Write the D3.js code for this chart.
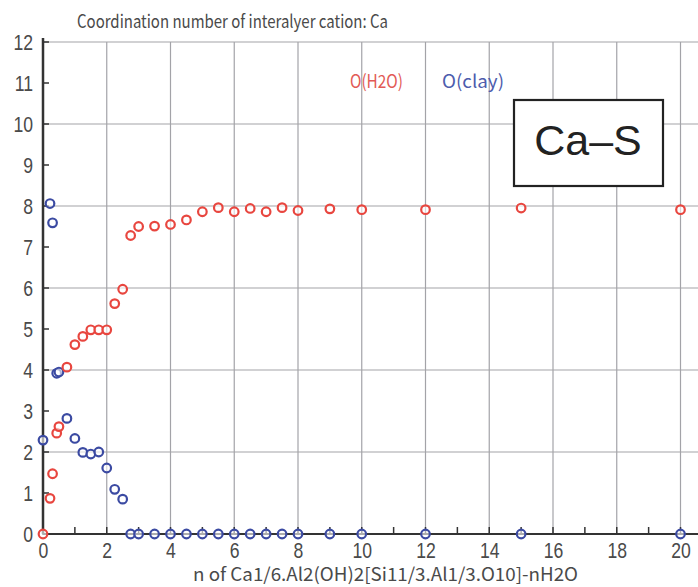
<!DOCTYPE html>
<html>
<head>
<meta charset="utf-8">
<script src="https://cdn.jsdelivr.net/npm/d3@7/dist/d3.min.js"></script>
<style>
  html, body { margin: 0; padding: 0; background: #fff; }
  svg { display: block; }
</style>
</head>
<body>
<svg id="chart" width="698" height="587"></svg>
<script>
// Water content n (x) shared by both series
const nValues = [0, 0.22, 0.3, 0.43, 0.5, 0.75, 1, 1.25, 1.5, 1.75, 2, 2.25, 2.5, 2.75, 3,
                 3.5, 4, 4.5, 5, 5.5, 6, 6.5, 7, 7.5, 8, 9, 10, 12, 15, 20];
// Coordination number from water oxygens
const cnWater = [0, 0.87, 1.47, 2.46, 2.62, 4.07, 4.62, 4.82, 4.98, 4.98, 4.98, 5.62, 5.97, 7.28, 7.5,
                 7.51, 7.55, 7.66, 7.86, 7.96, 7.86, 7.94, 7.86, 7.96, 7.89, 7.93, 7.91, 7.91, 7.95, 7.91];
// Coordination number from clay oxygens
const cnClay = [2.29, 8.06, 7.59, 3.92, 3.95, 2.82, 2.33, 1.99, 1.95, 2.0, 1.61, 1.09, 0.85, 0, 0,
                0, 0, 0, 0, 0, 0, 0, 0, 0, 0, 0, 0, 0, 0, 0];

const xMajorTicks = [0, 2, 4, 6, 8, 10, 12, 14, 16, 18, 20];
const xMinorTicks = [1, 3, 5, 7, 9, 11, 13, 15, 17, 19];
const yTicks = [0, 1, 2, 3, 4, 5, 6, 7, 8, 9, 10, 11, 12];
const yGrid = [2, 4, 6, 8, 10, 12];

const titleText = "Coordination number of interalyer cation: Ca";
const xTitleText = "n of Ca1/6.Al2(OH)2[Si11/3.Al1/3.O10]-nH2O";
const legendWater = "O(H2O)";
const legendClay = "O(clay)";
const panelLabel = "Ca\u2013S";

const RED = "#e8463f";
const BLUE = "#3b4aa2";
const GRID = "#a3a3a8";
const AXIS = "#333";
const TEXT = "#4a4a4a";
const tickFont = "'Liberation Sans', Arial, sans-serif";
const labelFont = "'Noto Sans CJK JP', 'DejaVu Sans', sans-serif";
const narrow = 0.8;   // horizontal squeeze for the tick numerals

const svg = d3.select("#chart");
const plotLeft = 43, plotTop = 42, plotBottom = 534, plotRight = 698;

const x = d3.scaleLinear().domain([0, 20]).range([plotLeft, 680.5]);
const y = d3.scaleLinear().domain([0, 12]).range([plotBottom, plotTop]);

// grid
const grid = svg.append("g");
grid.selectAll("line.v").data(xMajorTicks.filter(d => d > 0)).join("line")
  .attr("class", "v")
  .attr("x1", d => x(d)).attr("x2", d => x(d))
  .attr("y1", plotTop).attr("y2", plotBottom)
  .attr("stroke", GRID).attr("stroke-width", 1.2);
grid.selectAll("line.h").data(yGrid).join("line")
  .attr("class", "h")
  .attr("x1", plotLeft).attr("x2", plotRight)
  .attr("y1", d => y(d)).attr("y2", d => y(d))
  .attr("stroke", GRID).attr("stroke-width", 1.2);

// y axis
const yAxis = d3.axisLeft(y).tickValues(yTicks).tickSize(0).tickPadding(10).tickFormat(d3.format("d"));
const gy = svg.append("g").attr("transform", `translate(${plotLeft},0)`).call(yAxis);
gy.select(".domain").remove();
gy.selectAll("text").attr("font-family", tickFont).attr("font-size", 22)
  .attr("fill", TEXT).attr("dy", "0.35em")
  .attr("x", -10 / narrow).attr("transform", `scale(${narrow},1)`);
svg.append("g").selectAll("line").data(yTicks).join("line")
  .attr("x1", plotLeft - 1).attr("x2", plotLeft + 6)
  .attr("y1", d => y(d)).attr("y2", d => y(d))
  .attr("stroke", AXIS).attr("stroke-width", 1.5);

// x axis
const xAxis = d3.axisBottom(x).tickValues(xMajorTicks).tickSize(0).tickPadding(8).tickFormat(d3.format("d"));
const gx = svg.append("g").attr("transform", `translate(0,${plotBottom})`).call(xAxis);
gx.select(".domain").remove();
gx.selectAll("text").attr("font-family", tickFont).attr("font-size", 22)
  .attr("fill", TEXT).attr("dy", "0.71em").attr("transform", `scale(${narrow},1)`);

svg.append("g").selectAll("line").data(xMajorTicks.concat(xMinorTicks)).join("line")
  .attr("x1", d => x(d)).attr("x2", d => x(d))
  .attr("y1", plotBottom).attr("y2", plotBottom - 7)
  .attr("stroke", AXIS).attr("stroke-width", 1.5);

// axis lines
svg.append("line").attr("x1", plotLeft).attr("x2", plotRight).attr("y1", plotBottom).attr("y2", plotBottom)
  .attr("stroke", AXIS).attr("stroke-width", 2);
svg.append("line").attr("x1", plotLeft).attr("x2", plotLeft).attr("y1", plotTop - 4).attr("y2", plotBottom)
  .attr("stroke", AXIS).attr("stroke-width", 2.5);

// series
function drawSeries(values, color) {
  svg.append("g").selectAll("circle").data(nValues.map((n, i) => [n, values[i]])).join("circle")
    .attr("cx", d => x(d[0])).attr("cy", d => y(d[1])).attr("r", 4.3)
    .attr("fill", "#fff").attr("fill-opacity", 0.6)
    .attr("stroke", color).attr("stroke-width", 2.2);
}
drawSeries(cnClay, BLUE);
drawSeries(cnWater, RED);

// title
svg.append("text").attr("x", 77).attr("y", 28).text(titleText)
  .attr("font-family", labelFont).attr("font-size", 18)
  .attr("fill", TEXT).attr("textLength", 311).attr("lengthAdjust", "spacingAndGlyphs");

// x title
svg.append("text").attr("x", 193).attr("y", 581).text(xTitleText)
  .attr("font-family", labelFont).attr("font-size", 18)
  .attr("fill", TEXT).attr("textLength", 385).attr("lengthAdjust", "spacingAndGlyphs");

// legend labels
svg.append("text").attr("x", 350).attr("y", 88).text(legendWater)
  .attr("font-family", labelFont).attr("font-size", 18)
  .attr("fill", "#e25a55").attr("textLength", 53).attr("lengthAdjust", "spacingAndGlyphs");
svg.append("text").attr("x", 442).attr("y", 88).text(legendClay)
  .attr("font-family", labelFont).attr("font-size", 18)
  .attr("fill", "#4d5cad").attr("textLength", 62).attr("lengthAdjust", "spacingAndGlyphs");

// panel label box
svg.append("rect").attr("x", 514).attr("y", 100).attr("width", 149).attr("height", 86)
  .attr("fill", "#fff").attr("stroke", "#222").attr("stroke-width", 2.2);
svg.append("text").attr("x", 588).attr("y", 155).attr("text-anchor", "middle").text(panelLabel)
  .attr("font-family", "'Liberation Sans', Arial, sans-serif").attr("font-size", 43)
  .attr("fill", "#222");
</script>
</body>
</html>
